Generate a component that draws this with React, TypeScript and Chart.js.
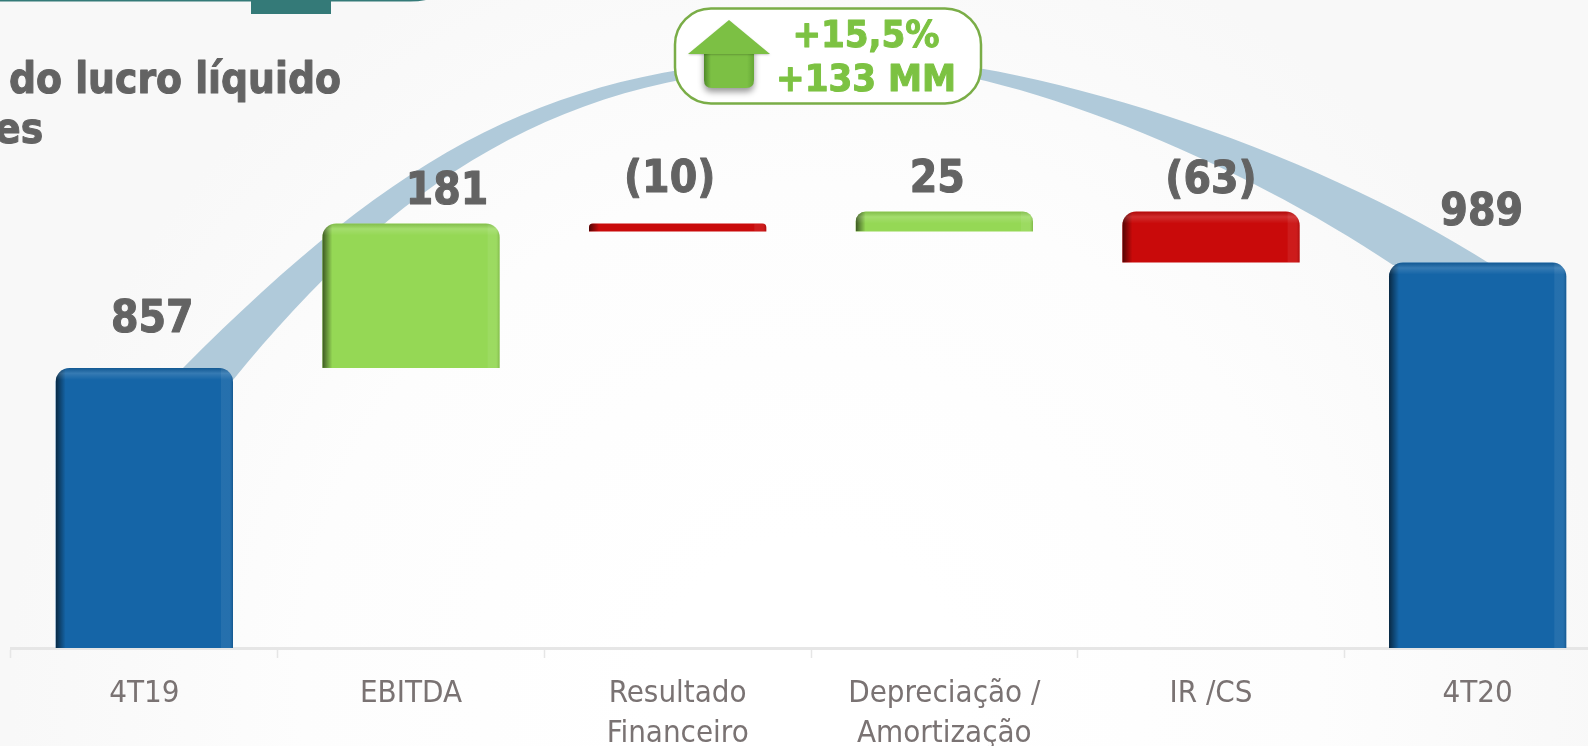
import React, { useEffect, useRef } from "react";
import { Chart, registerables } from "chart.js";

Chart.register(...registerables);

const categories = ["4T19", "EBITDA", ["Resultado", "Financeiro"], ["Depreciação /", "Amortização"], "IR /CS", "4T20"];
const axisMin = 506;
const axisMax = 1318;
const barLow = [axisMin, 857, 1028, 1028, 989, axisMin];
const barHigh = [857, 1038, 1038, 1053, 1053, 989];
const valueLabels = ["857", "181", "(10)", "25", "(63)", "989"];
const barColors = ["#1565a7", "#95d855", "#c90a0a", "#95d855", "#c90a0a", "#1565a7"];
const calloutLines = ["+15,5%", "+133 MM"];
const titleLines = ["do lucro líquido", "es"];

const labelOffsetX = [8, 36, -8, -7, 0, 4];
const labelOffsetY = [47, 31, 43, 31, 30, 49];
const FONT = "'DejaVu Sans Condensed', 'DejaVu Sans'";

function heavyText(ctx: CanvasRenderingContext2D, text: string, x: number, y: number, weight: number) {
  ctx.lineWidth = weight;
  ctx.lineJoin = "round";
  ctx.strokeStyle = ctx.fillStyle as string;
  ctx.strokeText(text, x, y);
  ctx.fillText(text, x, y);
}

const backdrop = {
  id: "backdrop",
  beforeDraw(chart: any) {
    const ctx: CanvasRenderingContext2D = chart.ctx;
    const g = ctx.createRadialGradient(810, 690, 150, 810, 690, 800);
    g.addColorStop(0, "#ffffff");
    g.addColorStop(0.55, "#fdfdfd");
    g.addColorStop(1, "#f8f8f8");
    ctx.fillStyle = g;
    ctx.fillRect(0, 0, chart.width, chart.height);

    ctx.fillStyle = "#347a78";
    ctx.beginPath();
    ctx.moveTo(0, 0);
    ctx.lineTo(426, 0);
    ctx.quadraticCurveTo(418, 1.5, 410, 1.5);
    ctx.lineTo(0, 1.5);
    ctx.closePath();
    ctx.fill();
    ctx.fillRect(251, 0, 80, 14);

    ctx.fillStyle = "#636363";
    ctx.font = `bold 42px ${FONT}`;
    ctx.textAlign = "left";
    ctx.textBaseline = "middle";
    heavyText(ctx, titleLines[0], 9, 82, 1);
    heavyText(ctx, titleLines[1], -5, 132, 1);
  },
  beforeDatasetsDraw(chart: any) {
    const ctx: CanvasRenderingContext2D = chart.ctx;
    ctx.save();
    ctx.fillStyle = "#b0cada";
    ctx.beginPath();
    ctx.moveTo(183, 368);
    ctx.bezierCurveTo(403, 148, 550, 64, 830, 56);
    ctx.bezierCurveTo(1000, 48, 1300, 142, 1492, 265);
    ctx.lineTo(1393, 265);
    ctx.bezierCurveTo(1230, 155, 970, 48, 830, 66);
    ctx.bezierCurveTo(560, 66, 393, 185, 233, 380);
    ctx.closePath();
    ctx.fill();
    ctx.restore();
  },
};

const overlays = {
  id: "overlays",
  afterDatasetsDraw(chart: any) {
    const ctx: CanvasRenderingContext2D = chart.ctx;
    const bars = chart.getDatasetMeta(0).data;
    bars.forEach((b: any, i: number) => {
      const left = b.x - b.width / 2;
      const right = b.x + b.width / 2;
      const top = b.y;
      const bottom = b.base;
      const h = bottom - top;
      const r = Math.min(14, h / 2);
      ctx.save();
      ctx.beginPath();
      ctx.roundRect(left, top, b.width, h, [r, r, 0, 0]);
      ctx.clip();
      const lg = ctx.createLinearGradient(left, 0, left + 10, 0);
      lg.addColorStop(0, "rgba(0,0,0,0.6)");
      lg.addColorStop(1, "rgba(0,0,0,0)");
      ctx.fillStyle = lg;
      ctx.fillRect(left, top, 10, h);
      const rg = ctx.createLinearGradient(right - 12, 0, right, 0);
      rg.addColorStop(0, "rgba(255,255,255,0.07)");
      rg.addColorStop(0.7, "rgba(255,255,255,0.07)");
      rg.addColorStop(1, "rgba(0,0,0,0.15)");
      ctx.fillStyle = rg;
      ctx.fillRect(right - 12, top, 12, h);
      if (h > 12) {
        const tg = ctx.createLinearGradient(0, top, 0, top + 12);
        tg.addColorStop(0, "rgba(0,0,0,0.12)");
        tg.addColorStop(0.45, "rgba(255,255,255,0.14)");
        tg.addColorStop(1, "rgba(255,255,255,0)");
        ctx.fillStyle = tg;
        ctx.fillRect(left, top, b.width, 12);
      }
      ctx.restore();

      ctx.fillStyle = "#636363";
      ctx.font = `bold 44px ${FONT}`;
      ctx.textAlign = "center";
      ctx.textBaseline = "middle";
      heavyText(ctx, valueLabels[i], b.x + labelOffsetX[i], top - labelOffsetY[i], 1);
    });

    // callout
    ctx.save();
    ctx.beginPath();
    ctx.roundRect(675, 8.5, 306, 95, 36);
    ctx.fillStyle = "#ffffff";
    ctx.fill();
    ctx.strokeStyle = "#7aad47";
    ctx.lineWidth = 2.5;
    ctx.stroke();
    ctx.restore();

    ctx.save();
    ctx.shadowColor = "rgba(0,0,0,0.4)";
    ctx.shadowBlur = 6;
    ctx.shadowOffsetY = 4;
    const shaft = ctx.createLinearGradient(704, 0, 754, 0);
    shaft.addColorStop(0, "#4f8a2a");
    shaft.addColorStop(0.14, "#7cc044");
    shaft.addColorStop(0.86, "#7cc044");
    shaft.addColorStop(1, "#66a836");
    ctx.fillStyle = shaft;
    ctx.beginPath();
    ctx.moveTo(704, 45);
    ctx.lineTo(754, 45);
    ctx.lineTo(754, 80);
    ctx.quadraticCurveTo(754, 88, 746, 88);
    ctx.lineTo(712, 88);
    ctx.quadraticCurveTo(704, 88, 704, 80);
    ctx.closePath();
    ctx.fill();
    ctx.shadowColor = "rgba(0,0,0,0.2)";
    ctx.shadowBlur = 2;
    ctx.shadowOffsetY = 1;
    ctx.fillStyle = "#7cc044";
    ctx.beginPath();
    ctx.moveTo(729, 20);
    ctx.lineTo(770, 54);
    ctx.lineTo(688, 54);
    ctx.closePath();
    ctx.fill();
    ctx.restore();

    ctx.fillStyle = "#7cc242";
    ctx.font = `bold 38px ${FONT}`;
    ctx.textAlign = "center";
    ctx.textBaseline = "middle";
    heavyText(ctx, calloutLines[0], 866, 37, 1);
    heavyText(ctx, calloutLines[1], 866, 81, 1);
  },
};

export default function App() {
  const ref = useRef<HTMLCanvasElement>(null);
  useEffect(() => {
    document.body.style.margin = "0";
    const chart = new Chart(ref.current!, {
      type: "bar",
      data: {
        labels: categories as any,
        datasets: [
          {
            data: barLow.map((v, i) => [v, barHigh[i]]) as any,
            backgroundColor: barColors,
            borderWidth: 0,
            borderSkipped: false,
            inflateAmount: 0,
            borderRadius: { topLeft: 14, topRight: 14, bottomLeft: 0, bottomRight: 0 },
            categoryPercentage: 1,
            barPercentage: 0.665,
          },
        ],
      },
      options: {
        responsive: false,
        animation: false,
        layout: { padding: { left: 11, right: 0, top: 0, bottom: 0 } },
        plugins: { legend: { display: false }, tooltip: { enabled: false }, title: { display: false } },
        scales: {
          y: { display: false, min: axisMin, max: axisMax },
          x: {
            afterFit(scale: any) {
              scale.height = 98;
            },
            offset: true,
            border: { color: "#e6e6e6", width: 3 },
            grid: { offset: true, drawOnChartArea: false, drawTicks: true, tickLength: 10, color: "#e6e6e6", tickWidth: 1.5 },
            ticks: {
              autoSkip: false,
              maxRotation: 0,
              padding: 16,
              color: "#7a7373",
              font: { family: FONT, size: 31, lineHeight: 1.3 },
            },
          },
        },
      } as any,
      plugins: [backdrop, overlays],
    });
    return () => chart.destroy();
  }, []);
  return (
    <div style={{ position: "fixed", left: 0, top: 0, width: 1588, height: 746, overflow: "hidden" }}>
      <canvas ref={ref} width={1611} height={746} style={{ display: "block" }} />
    </div>
  );
}
